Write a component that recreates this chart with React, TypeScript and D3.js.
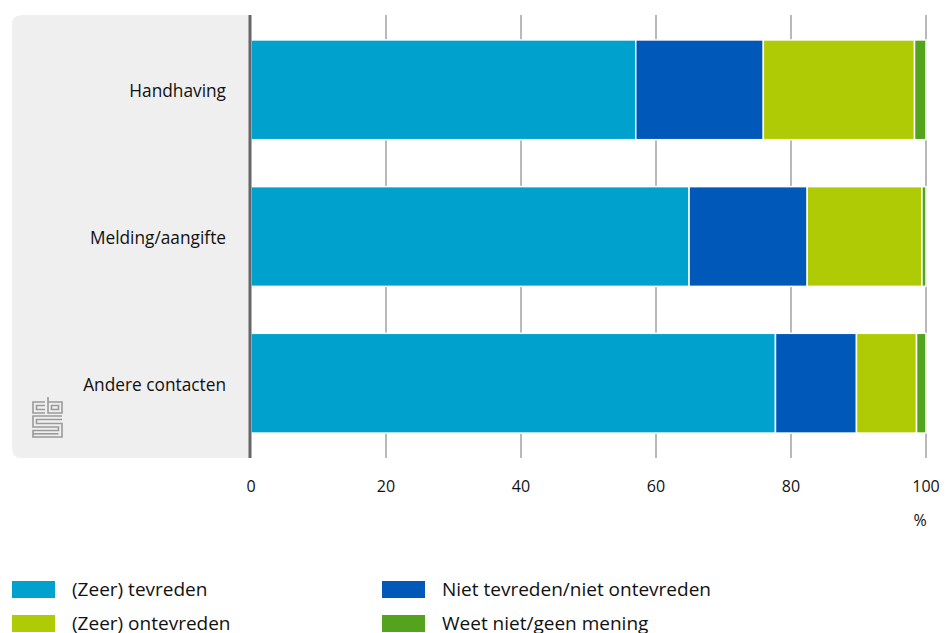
import React from "react";
import * as d3 from "d3";

const categories = ["Handhaving", "Melding/aangifte", "Andere contacten"];
const seriesNames = [
  "(Zeer) tevreden",
  "Niet tevreden/niet ontevreden",
  "(Zeer) ontevreden",
  "Weet niet/geen mening",
];
const tevreden = [57.0, 64.9, 77.7];
const neutraal = [18.9, 17.5, 12.0];
const ontevreden = [22.4, 17.0, 8.9];
const weetNiet = [1.7, 0.6, 1.4];
const colors = ["#00a1cd", "#0058b8", "#afcb05", "#53a31d"];
const xTicks = [0, 20, 40, 60, 80, 100];

const W = 949;
const H = 633;
const FONT = "'Open Sans', sans-serif";

export default function App() {
  const x = d3.scaleLinear().domain([0, 100]).range([251, 926]);
  const y = d3.scaleBand<string>().domain(categories).range([15, 458]).paddingInner(0.32).paddingOuter(0.17);
  const seriesValues = [tevreden, neutraal, ontevreden, weetNiet];
  const rows = categories.map((c, i) => {
    const r: any = { cat: c };
    seriesNames.forEach((s, j) => (r[s] = seriesValues[j][i]));
    return r;
  });
  const stacked = d3.stack<any>().keys(seriesNames)(rows);

  const legendItems = [
    { name: seriesNames[0], color: colors[0], x: 12, y: 581 },
    { name: seriesNames[1], color: colors[1], x: 382, y: 581 },
    { name: seriesNames[2], color: colors[2], x: 12, y: 615 },
    { name: seriesNames[3], color: colors[3], x: 382, y: 615 },
  ];

  return (
    <svg width={W} height={H} style={{ position: "absolute", left: 0, top: 0 }} fontFamily={FONT}>
      <path
        d={`M250,15 H22 Q12,15 12,25 V448 Q12,458 22,458 H250 Z`}
        fill="#efefef"
      />
      {/* CBS logo */}
      <g transform="translate(32,397)" fill="none" stroke="#9a9a9a" strokeWidth={1.6}>
        <path d="M13,5 H1 V16 H13" />
        <path d="M13,8.5 H4.5 V12.5 H13" />
        <path d="M16,0 V16 H30 V5 H16" />
        <path d="M19.5,8.5 H26.5 V12.5 H19.5 Z" />
        <path d="M30,19 H1 V30 H26.5 V33.5 H1 V40 H30 V26.5 H4.5 V22.5 H30" />
        <path d="M1,36.8 H26.5" />
      </g>
      {xTicks.slice(1).map((t) => (
        <line key={t} x1={x(t)} x2={x(t)} y1={15} y2={458} stroke="#8a8a8a" strokeWidth={1.2} />
      ))}
      {stacked.map((s, j) => (
        <g key={s.key} fill={colors[j]}>
          {s.map((d, i) => (
            <rect
              key={i}
              x={x(d[0])}
              y={y(categories[i])!}
              width={Math.max(0, x(d[1]) - x(d[0]))}
              height={y.bandwidth()}
              stroke="#ffffff"
              strokeWidth={1.5}
            />
          ))}
        </g>
      ))}
      <line x1={250} x2={250} y1={15} y2={458} stroke="#666666" strokeWidth={3} />
      {categories.map((c) => (
        <text
          key={c}
          x={226}
          y={y(c)! + y.bandwidth() / 2 + 3}
          textAnchor="end"
          fontSize={17.3}
          fill="#111"
          dominantBaseline="middle"
        >
          {c}
        </text>
      ))}
      {xTicks.map((t) => (
        <text key={t} x={x(t)} y={492} textAnchor="middle" fontSize={16} fill="#111">
          {t}
        </text>
      ))}
      <text x={920} y={526} textAnchor="middle" fontSize={16} fill="#111">
        %
      </text>
      {legendItems.map((l) => (
        <g key={l.name}>
          <rect x={l.x} y={l.y} width={43} height={17} fill={l.color} />
          <text x={l.x + 60} y={l.y + 15} fontSize={19} fill="#111">
            {l.name}
          </text>
        </g>
      ))}
    </svg>
  );
}
